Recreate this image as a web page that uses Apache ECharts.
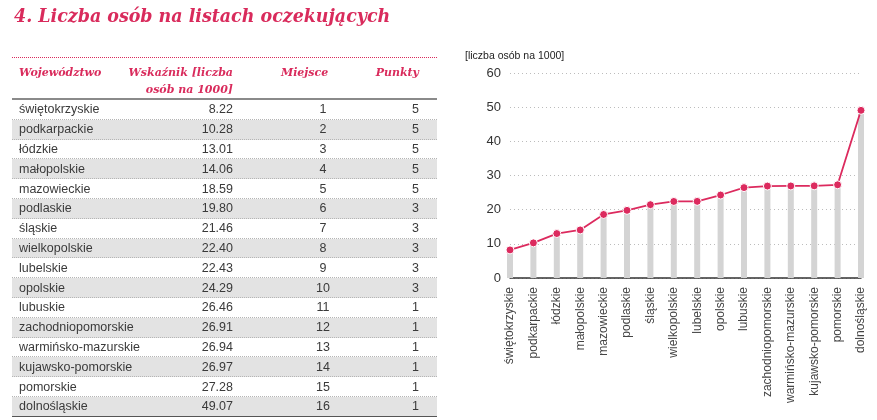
<!DOCTYPE html>
<html>
<head>
<meta charset="utf-8">
<script src="https://cdn.jsdelivr.net/npm/echarts@6/dist/echarts.min.js"></script>
<style>
    body{margin:0;background:#fff;}
    .wrap{position:relative;width:877px;height:420px;overflow:hidden;}
    #chart{position:absolute;left:0;top:0;width:877px;height:420px;}
    .tbl{position:absolute;left:12px;top:57px;width:425px;height:360px;border-top:1px dotted #d92b5c;font-family:"Liberation Sans",Arial,sans-serif;}
    .th{position:absolute;font-family:"DejaVu Serif",serif;font-weight:bold;font-style:italic;font-size:11px;color:#d92b5c;line-height:17px;white-space:nowrap;}
    .hline{position:absolute;left:0;top:40px;width:425px;height:2px;background:#8a8a8a;}
    .row{position:absolute;left:0;width:425px;border-bottom:1px dotted #b5b5b5;box-sizing:border-box;font-size:12.5px;color:#3a3a3a;}
    .row span{position:absolute;top:50%;transform:translateY(-50%);white-space:nowrap;}
    .row.alt{background:#e3e3e3;}
    .row.last{border-bottom:1.5px solid #555;}
</style>
</head>
<body>
<div class="wrap">
    <div id="chart"></div>
    <div class="tbl" id="tbl"></div>
</div>
<script>
    // dane
    let regions=['świętokrzyskie','podkarpackie','łódzkie','małopolskie','mazowieckie','podlaskie','śląskie','wielkopolskie','lubelskie','opolskie','lubuskie','zachodniopomorskie','warmińsko-mazurskie','kujawsko-pomorskie','pomorskie','dolnośląskie'];
    let values=[8.22,10.28,13.01,14.06,18.59,19.80,21.46,22.40,22.43,24.29,26.46,26.91,26.94,26.97,27.28,49.07];
    let places=[1,2,3,4,5,6,7,8,9,10,11,12,13,14,15,16];
    let points=[5,5,5,5,5,3,3,3,3,3,1,1,1,1,1,1];
    let headers=['Województwo','Wskaźnik [liczba','osób na 1000]','Miejsce','Punkty'];
    let yTicks=[0,10,20,30,40,50,60];

    // tabela
    let tbl=document.getElementById('tbl');
    let h='';
    h+='<div class="th" style="left:7px;top:6px">'+headers[0]+'</div>';
    h+='<div class="th" style="right:204px;top:6px;text-align:right">'+headers[1]+'<br>'+headers[2]+'</div>';
    h+='<div class="th" style="left:269px;top:6px">'+headers[3]+'</div>';
    h+='<div class="th" style="right:18px;top:6px">'+headers[4]+'</div>';
    h+='<div class="hline"></div>';
    let rowH=19.8;
    for(let i=0;i<regions.length;i++){
        let cls='row'+(i%2===1?' alt':'')+(i===regions.length-1?' last':'');
        h+='<div class="'+cls+'" style="top:'+(42+i*rowH)+'px;height:'+rowH+'px">'
            +'<span style="left:7px">'+regions[i]+'</span>'
            +'<span style="right:204px">'+values[i].toFixed(2)+'</span>'
            +'<span style="left:311px;transform:translate(-50%,-50%)">'+places[i]+'</span>'
            +'<span style="right:18px">'+points[i]+'</span>'
            +'</div>';
    }
    tbl.innerHTML=h;

    // wykres
    let myChart=echarts.init(document.getElementById('chart'));
    myChart.setOption({
        animation:false,
        title:{
            text:'4. Liczba osób na listach oczekujących',
            left:9,
            top:2,
            textStyle:{
                fontFamily:'DejaVu Serif Condensed, DejaVu Serif',
                fontWeight:'bold',
                fontStyle:'italic',
                fontSize:19.4,
                color:'#d92b5c',
            }
        },
        grid:{
            left:510,
            right:16,
            top:73,
            bottom:142,
        },
        xAxis:{
            type:'category',
            boundaryGap:false,
            data:regions,
            axisLine:{lineStyle:{color:'#333',width:1.5}},
            axisTick:{show:false},
            axisLabel:{
                rotate:90,
                interval:0,
                margin:9,
                fontSize:12,
                color:'#444',
                fontFamily:'Liberation Sans',
            },
        },
        yAxis:{
            type:'value',
            min:yTicks[0],
            max:yTicks[yTicks.length-1],
            interval:10,
            name:'[liczba osób na 1000]',
            nameLocation:'end',
            nameGap:11,
            nameTextStyle:{
                align:'left',
                padding:[0,0,0,-45],
                fontSize:10.5,
                color:'#222',
                fontFamily:'Liberation Sans',
            },
            axisLine:{show:false},
            axisTick:{show:false},
            axisLabel:{
                fontSize:13,
                color:'#333',
                margin:9,
                fontFamily:'Liberation Sans',
            },
            splitLine:{
                show:true,
                lineStyle:{type:[1,3],color:'#bcbcbc'},
            },
        },
        series:[
            {
                type:'bar',
                data:values,
                barWidth:6,
                clip:false,
                itemStyle:{color:'#d4d4d4'},
                z:1,
            },
            {
                type:'line',
                data:values,
                clip:false,
                symbol:'circle',
                symbolSize:8,
                lineStyle:{color:'#dc2a5e',width:1.8},
                itemStyle:{color:'#dc2a5e',borderColor:'#fff',borderWidth:1},
                z:3,
            }
        ],
    });
</script>
</body>
</html>
